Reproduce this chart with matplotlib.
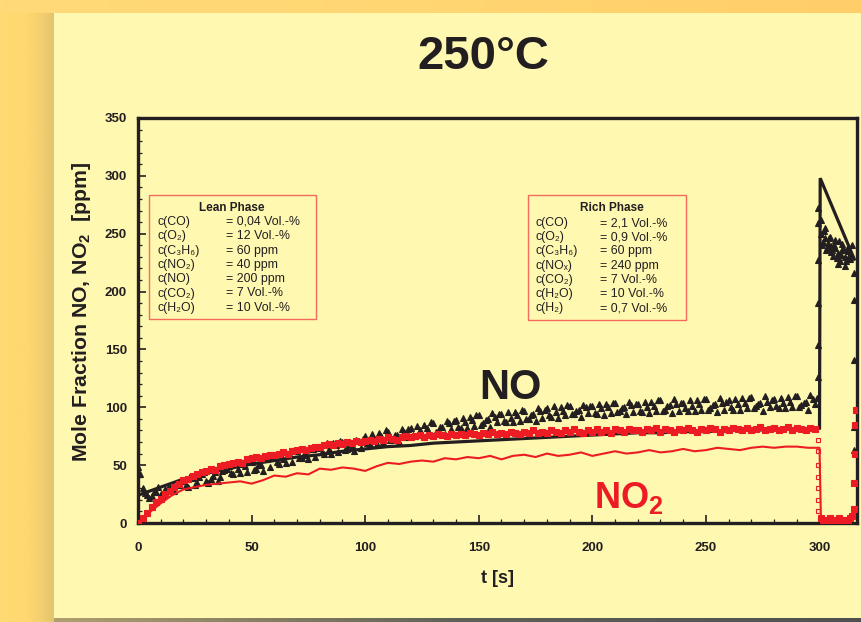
import numpy as np
import matplotlib
matplotlib.use('Agg')
import matplotlib.pyplot as plt
from matplotlib.patches import Rectangle

FONT = ['Liberation Sans', 'DejaVu Sans']
plt.rcParams['font.family'] = FONT
plt.rcParams['mathtext.default'] = 'regular'

# ---------------- data ----------------
title = '250°C'
xlabel = 't [s]'
ylabel = 'Mole Fraction NO, NO$_2$  [ppm]'
xticks = [0, 50, 100, 150, 200, 250, 300]
yticks = [0, 50, 100, 150, 200, 250, 300, 350]

t_meas = np.arange(0, 300, 2)
no_meas = [48, 30, 24, 23, 27, 25, 29, 31, 28, 33,
           37, 31, 39, 35, 42, 36, 38, 44, 40, 46,
           49, 42, 47, 51, 44, 53, 47, 50, 55, 48,
           58, 51, 55, 60, 53, 62, 56, 59, 64, 57,
           66, 60, 64, 69, 61, 70, 64, 67, 72, 65,
           75, 68, 73, 78, 70, 79, 72, 76, 81, 74,
           82, 75, 80, 85, 77, 86, 79, 83, 88, 81,
           89, 82, 87, 92, 84, 93, 86, 90, 95, 87,
           94, 87, 91, 96, 88, 97, 90, 94, 99, 91,
           99, 92, 96, 100, 93, 101, 94, 98, 102, 95,
           101, 94, 99, 103, 95, 104, 97, 100, 105, 96,
           103, 96, 100, 105, 97, 106, 98, 102, 107, 97,
           104, 97, 101, 106, 98, 107, 99, 103, 108, 98,
           106, 98, 103, 108, 99, 109, 101, 104, 110, 100,
           107, 99, 104, 109, 100, 110, 102, 105, 111, 103]
t_meas_odd = np.arange(1, 300, 2)
no_meas_odd = [42, 26, 22, 27, 31, 24, 30, 28, 33, 36,
               33, 41, 33, 40, 44, 35, 41, 36, 45, 47,
               43, 51, 43, 49, 54, 46, 50, 45, 55, 56,
               53, 61, 52, 59, 63, 56, 60, 55, 64, 65,
               61, 69, 60, 67, 71, 63, 68, 62, 71, 73,
               69, 77, 68, 75, 80, 72, 76, 70, 79, 81,
               76, 84, 76, 82, 87, 79, 83, 77, 86, 88,
               83, 91, 82, 89, 93, 85, 89, 83, 92, 94,
               88, 96, 87, 93, 98, 90, 93, 88, 97, 98,
               93, 101, 91, 97, 102, 94, 97, 92, 100, 101,
               95, 103, 93, 100, 104, 96, 99, 94, 102, 103,
               97, 105, 95, 101, 106, 97, 101, 95, 103, 104,
               99, 106, 97, 103, 107, 98, 102, 96, 104, 105,
               100, 107, 98, 104, 108, 99, 103, 97, 105, 106,
               101, 108, 99, 105, 110, 100, 104, 98, 107, 108]
no2_meas = [0, 4, 9, 14, 18, 21, 25, 28, 31, 34,
            37, 38, 41, 42, 44, 45, 47, 46, 49, 50,
            51, 52, 53, 52, 55, 56, 57, 56, 58, 59,
            59, 60, 61, 60, 62, 63, 64, 63, 65, 66,
            66, 67, 68, 67, 69, 68, 70, 69, 71, 70,
            71, 72, 71, 73, 72, 74, 73, 72, 74, 75,
            74, 75, 76, 74, 76, 75, 77, 76, 75, 77,
            76, 77, 76, 78, 77, 76, 78, 77, 79, 77,
            78, 77, 79, 78, 77, 79, 78, 80, 78, 79,
            78, 80, 79, 78, 80, 79, 81, 79, 78, 80,
            79, 81, 79, 80, 78, 81, 80, 79, 81, 80,
            80, 79, 81, 80, 82, 79, 81, 80, 79, 81,
            80, 82, 80, 79, 81, 80, 82, 81, 79, 81,
            80, 82, 81, 80, 82, 80, 81, 83, 80, 81,
            82, 80, 81, 83, 80, 82, 81, 80, 82, 81]

# rich phase part of the measurements
no_tail_t = [299.2, 299.2, 299.2, 299.2, 299.2, 299.2,
             300.5, 301.5, 302.5, 303.5, 304.5, 305.5, 306.5, 307.5,
             308.5, 309.5, 310.5, 311.5, 312.5, 313.5, 314.5,
             301.0, 302.0, 303.0, 304.0, 305.0, 306.0, 307.0, 308.0,
             309.0, 310.0, 311.0, 312.0, 313.0, 314.0,
             300.8, 302.2, 303.8, 305.2, 306.8, 308.2, 309.8, 311.2, 312.8,
             315.3, 315.3, 315.3, 315.3, 315.3]
no_tail = [272, 259, 227, 190, 154, 126,
           250, 243, 255, 238, 247, 236, 240, 229, 244, 232, 238, 226, 235, 228, 240,
           240, 252, 236, 246, 239, 231, 245, 233, 226, 241, 230, 237, 229, 232,
           262, 246, 242, 234, 238, 224, 236, 222, 231,
           216, 193, 141, 83, 63]
no2_tail_t = [299.5, 299.5, 299.5, 299.5, 299.5, 299.5, 299.5,
              300.5, 301.5, 302.5, 303.5, 304.5, 305.5, 306.5, 307.5,
              308.5, 309.5, 310.5, 311.5, 312.5, 313.5, 314.5,
              315.0, 315.3, 315.5, 315.7, 315.9]
no2_tail = [72, 62, 50, 40, 30, 20, 10,
            4, 3, 2, 3, 4, 3, 2, 3, 4, 3, 3, 2, 3, 4, 6,
            12, 35, 60, 85, 98]

t_no_sim = [0, 10, 20, 30, 40, 50, 60, 70, 80, 90, 100, 110, 120, 130, 140,
            150, 160, 170, 180, 190, 200, 210, 220, 230, 240, 250, 260, 270,
            280, 290, 300, 300.3, 315.3]
no_sim = [24, 31, 38, 43, 47, 51, 54, 57, 59, 62, 64, 66, 67, 69, 70,
          71, 72, 73, 74, 75, 76, 77, 78, 78, 79, 79, 80, 80,
          81, 81, 82, 298, 228]

t_no2_sim = [0, 5, 10, 15, 20, 25, 30, 35, 40, 45, 50, 55, 60, 65, 70, 75,
             80, 85, 90, 95, 100, 105, 110, 115, 120, 125, 130, 135, 140, 145,
             150, 155, 160, 165, 170, 175, 180, 185, 190, 195, 200, 205, 210,
             215, 220, 225, 230, 235, 240, 245, 250, 255, 260, 265, 270, 275,
             280, 285, 290, 295, 300, 300.6, 305, 310, 314]
no2_sim = [0, 9, 17, 24, 29, 31, 33, 34, 35, 36, 34, 37, 41, 40, 43, 42,
           47, 46, 48, 47, 45, 49, 52, 51, 53, 54, 53, 56, 55, 57,
           56, 58, 55, 58, 59, 57, 60, 58, 59, 61, 58, 60, 62,
           60, 61, 63, 61, 62, 64, 62, 63, 65, 64, 63, 65, 66,
           65, 66, 66, 65, 65, 5, 2, 2, 2]

lean_title = 'Lean Phase'
lean_labels = ['c(CO)', 'c(O₂)', 'c(C₃H₆)', 'c(NO₂)', 'c(NO)', 'c(CO₂)', 'c(H₂O)']
lean_values = ['= 0,04 Vol.-%', '= 12 Vol.-%', '= 60 ppm', '= 40 ppm',
               '= 200 ppm', '= 7 Vol.-%', '= 10 Vol.-%']
rich_title = 'Rich Phase'
rich_labels = ['c(CO)', 'c(O₂)', 'c(C₃H₆)', 'c(NOₓ)', 'c(CO₂)', 'c(H₂O)', 'c(H₂)']
rich_values = ['= 2,1 Vol.-%', '= 0,9 Vol.-%', '= 60 ppm', '= 240 ppm',
               '= 7 Vol.-%', '= 10 Vol.-%', '= 0,7 Vol.-%']

# ---------------- style ----------------
W, H = 861, 622
BLACK = '#231F20'
RED = '#ED1C24'
PANEL = '#FFF8B0'
ORANGE = '#FFD66C'
BOXRED = '#F26B5B'


def fx(x):
    return x / W


def fy(y):
    return 1 - y / H


fig = plt.figure(figsize=(W / 100, H / 100), dpi=100)
fig.patch.set_facecolor(ORANGE)

# background: orange frame, shadow and pale yellow panel
bg = fig.add_axes([0, 0, 1, 1], zorder=-5)
bg.set_xlim(0, W)
bg.set_ylim(H, 0)
bg.axis('off')
grad = np.linspace(0, 1, 256).reshape(1, -1)
LSC = matplotlib.colors.LinearSegmentedColormap
bg.imshow(grad, extent=[0, W, 13, 0], cmap=LSC.from_list(
    'top', ['#FFDA78', '#FFD672', '#FFCE68']), aspect='auto', zorder=0)
bg.imshow(grad, extent=[0, 54, H, 13], cmap=LSC.from_list(
    'left', ['#FFDA74', '#FFD870', '#FFD870', '#F5CF70', '#E2C46E']), aspect='auto', zorder=0)
bg.add_patch(Rectangle((54, 13), W - 54, 605, facecolor=PANEL, edgecolor='none', zorder=1))
bg.imshow(grad, extent=[54, W, H, 618], cmap=LSC.from_list(
    'bot', ['#B0A070', '#606058', '#505050']), aspect='auto', zorder=2)

ax = fig.add_axes([fx(138), fy(523), fx(857) - fx(138), fy(118) - fy(523)])
ax.set_facecolor(PANEL)

tri = dict(ls='none', marker='^', ms=5, mfc=BLACK, mec=BLACK, mew=0.8, zorder=2)
ax.plot(t_meas, no_meas, **tri)
ax.plot(t_meas_odd, no_meas_odd, **tri)
ax.plot(no_tail_t, no_tail, **tri)
ax.plot(t_no_sim, no_sim, color=BLACK, lw=2.3, zorder=3, solid_joinstyle='miter')
ax.plot(t_meas, no2_meas, ls='none', marker='s', ms=4.5, mfc=RED, mec=RED, mew=0.8, zorder=4)
ax.plot(no2_tail_t[:7], no2_tail[:7], ls='none', marker='s', ms=3.2, mfc='none', mec=RED, mew=0.8, zorder=4)
ax.plot(no2_tail_t[7:], no2_tail[7:], ls='none', marker='s', ms=4, mfc=RED, mec=RED, mew=0.8, zorder=4)
ax.plot(t_no2_sim, no2_sim, color=RED, lw=1.5, zorder=5)

ax.set_xlim(0, 316.5)
ax.set_ylim(0, 350)
ax.set_xticks(xticks)
ax.set_yticks(yticks)
ax.set_xticks(np.arange(0, 316, 10), minor=True)
ax.set_yticks(np.arange(0, 351, 10), minor=True)
ax.tick_params(which='both', direction='in', color=BLACK, top=False, right=False)
ax.tick_params(which='major', length=6, width=1.2, labelsize=9.5)
ax.tick_params(axis='y', which='major', pad=8)
ax.tick_params(axis='x', which='major', pad=14)
ax.tick_params(which='minor', length=3, width=0.9)
for lab in ax.get_xticklabels() + ax.get_yticklabels():
    lab.set_fontweight('bold')
    lab.set_color(BLACK)
for sp in ax.spines.values():
    sp.set_linewidth(2.4)
    sp.set_color(BLACK)

ax.set_xlabel(xlabel, fontsize=13, fontweight='bold', color=BLACK, labelpad=11)
ax.set_ylabel(ylabel, fontsize=15.3, fontweight='bold', color=BLACK)
ax.yaxis.set_label_coords((93 - 138) / 719, (523 - 312) / 405)

fig.text(fx(483), fy(57), title, fontsize=34, fontweight='bold', color=BLACK,
         ha='center', va='center')

ax.text(164, 117, 'NO', fontsize=30, fontweight='bold', color=BLACK,
        ha='center', va='center', zorder=6)
ax.text(216, 22, 'NO$_2$', fontsize=26, fontweight='bold', color=RED,
        ha='center', va='center', zorder=6)


def draw_box(x0, y0, x1, y1, ttl, tx, labels, values, lx, vx, ly0, dy):
    fig.patches.append(Rectangle((fx(x0), fy(y1)), fx(x1) - fx(x0), fy(y0) - fy(y1),
                                 transform=fig.transFigure, facecolor=PANEL,
                                 edgecolor=BOXRED, lw=1.0, zorder=10))
    fig.text(fx(tx), fy(y0 + 13), ttl, fontsize=8.5, fontweight='bold', color=BLACK,
             ha='center', va='center', zorder=11)
    for i, (l, v) in enumerate(zip(labels, values)):
        yy = fy(ly0 + i * dy)
        fig.text(fx(lx), yy, l, fontsize=8.9, color=BLACK, ha='left', va='center', zorder=11)
        fig.text(fx(vx), yy, v, fontsize=8.9, color=BLACK, ha='left', va='center', zorder=11)


draw_box(149, 195, 316, 319, lean_title, 232, lean_labels, lean_values, 157, 226, 222, 14.3)
draw_box(528, 195, 686, 320, rich_title, 612, rich_labels, rich_values, 535, 600, 223, 14.2)

fig.savefig('out.png', dpi=100, facecolor=fig.get_facecolor())
